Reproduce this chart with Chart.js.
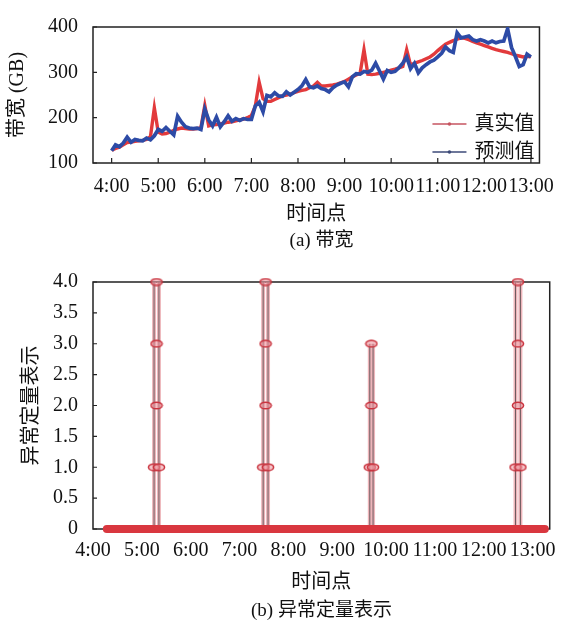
<!DOCTYPE html>
<html>
<head>
<meta charset="utf-8">
<script src="https://cdn.jsdelivr.net/npm/chart.js@4"></script>
<style>
body{margin:0;background:#fff;width:566px;height:625px;position:relative;overflow:hidden;font-family:'Liberation Serif','Noto Sans CJK SC',serif;color:#111;}
.box{position:absolute;left:0;width:566px;}
.cap{position:absolute;left:0;width:643px;text-align:center;font-size:19px;line-height:22px;}
</style>
</head>
<body>
<div class="box" style="top:0;height:232px"><canvas id="bw"></canvas></div>
<div class="cap" style="top:229px">(a) 带宽</div>
<div class="box" style="top:255px;height:345px"><canvas id="yc"></canvas></div>
<div class="cap" style="top:599px">(b) 异常定量表示</div>
<script>
const serif = "'Liberation Serif', 'Noto Sans CJK SC', serif";

// ---- data ----
const hourLabels = ['4:00','5:00','6:00','7:00','8:00','9:00','10:00','11:00','12:00','13:00'];
const startTime = '4:00';
const stepMinutes = 5;
const seriesNames = ['真实值', '预测值'];

// 带宽 (GB), one value every 5 minutes from 4:00 to 13:00
const realValues = [
  128,132,135,140,145,146,148,149,150,152,158,222,
  168,164,165,168,172,175,177,176,175,175,176,178,
  227,182,184,185,186,188,190,191,193,195,197,200,
  205,225,278,242,236,236,240,244,248,250,252,255,
  258,260,262,266,270,278,270,270,271,272,274,277,
  280,285,290,294,298,350,296,295,296,298,300,302,
  305,307,310,313,350,316,320,323,326,330,334,340,
  348,355,362,366,370,373,376,375,372,368,365,362,
  359,356,353,350,348,346,344,341,338,336,334,335,
  335
];
const predValues = [
  127,140,136,144,157,146,152,150,149,155,151,160,
  174,170,178,170,162,203,190,180,177,176,177,174,
  219,195,182,201,180,191,204,192,198,194,198,196,
  196,226,234,213,249,246,255,248,247,257,250,256,
  262,270,284,268,266,270,264,262,257,266,272,276,
  279,268,290,297,296,302,300,305,320,303,285,304,
  300,302,310,320,334,308,320,299,310,317,323,327,
  334,342,356,348,344,387,376,378,380,372,369,372,
  369,365,369,365,368,369,396,355,335,313,317,340,
  334
];

// 异常定量表示
const anomalyTicks = [0,0.5,1,1.5,2,2.5,3,3.5,4];
const baseTimes = ['4:17','13:15'];
const baseValues = [0, 0];
const spikeTimesA = ['5:15','7:29','9:40','12:39'];
const spikeTimesB = ['5:21','7:35','9:44','12:45'];
const spikeLevels = [4, 4, 3, 4];

function toMin(s){ const p = s.split(':').map(Number); return (p[0]-4)*60 + p[1]; }
const startMin = toMin(startTime);

const realPts = realValues.map((v,i) => ({x: startMin + i*stepMinutes, y: v}));
const predPts = predValues.map((v,i) => ({x: startMin + i*stepMinutes, y: v}));

const basePts = baseTimes.map((t,i) => ({x: toMin(t), y: baseValues[i]}));
const spikePts = [];
const markerPts = [];
spikeLevels.forEach((lv, i) => {
  const xa = toMin(spikeTimesA[i]), xb = toMin(spikeTimesB[i]);
  [xa, xb].forEach(x => { spikePts.push({x, y:0}, {x, y:lv}, {x, y:null}); });
  markerPts.push({x: xa, y: 1}, {x: xb, y: 1});
  for (let k = 2; k <= lv; k++) markerPts.push({x: (xa+xb)/2, y: k});
});

function ellipseMarker(){
  const c = document.createElement('canvas'); c.width = 14; c.height = 9;
  const g = c.getContext('2d');
  g.beginPath(); g.ellipse(7, 4.5, 5.6, 3.3, 0, 0, Math.PI*2);
  g.fillStyle = 'rgba(236,150,158,0.55)'; g.fill();
  g.lineWidth = 1.5; g.strokeStyle = '#c9343f'; g.stroke();
  return c;
}

// ---- plugins ----
const frame = {
  id: 'frame',
  beforeDatasetsDraw(chart, args, opts){
    const {ctx, chartArea: a, scales} = chart;
    ctx.save();
    ctx.strokeStyle = '#222'; ctx.lineWidth = 1.5;
    ctx.strokeRect(a.left, a.top, a.right - a.left, a.bottom - a.top);
    ctx.lineWidth = 1.2;
    ctx.beginPath();
    scales.y.ticks.forEach(t => { const y = scales.y.getPixelForValue(t.value); ctx.moveTo(a.left, y); ctx.lineTo(a.left + 4, y); });
    if (opts.xTicks) scales.x.ticks.forEach(t => { const x = scales.x.getPixelForValue(t.value); ctx.moveTo(x, a.bottom); ctx.lineTo(x, a.bottom - 5); });
    ctx.stroke();
    ctx.restore();
  }
};

const legendBox = {
  id: 'legendBox',
  afterDraw(chart){
    const {ctx, chartArea: a} = chart;
    const items = [
      {text: seriesNames[0], color: '#c65560', y: a.top + 97},
      {text: seriesNames[1], color: '#3d4a78', y: a.top + 125}
    ];
    ctx.save();
    ctx.font = '20px ' + serif;
    ctx.textBaseline = 'middle';
    items.forEach(it => {
      ctx.strokeStyle = it.color; ctx.lineWidth = 1.5;
      ctx.beginPath(); ctx.moveTo(a.right - 107, it.y); ctx.lineTo(a.right - 73, it.y); ctx.stroke();
      ctx.fillStyle = it.color;
      ctx.beginPath(); ctx.arc(a.right - 90, it.y, 1.8, 0, Math.PI*2); ctx.fill();
      ctx.fillStyle = '#111';
      ctx.fillText(it.text, a.right - 65, it.y + 1);
    });
    ctx.restore();
  }
};

Chart.defaults.font.family = serif;
Chart.defaults.font.size = 20;
Chart.defaults.color = '#111';

// ---- (a) 带宽 ----
new Chart(document.getElementById('bw'), {
  type: 'line',
  data: {
    datasets: [
      {label: seriesNames[1], data: predPts, borderColor: '#2d4ba6', borderWidth: 3.7, pointRadius: 0},
      {label: seriesNames[0], data: realPts, borderColor: '#e23a3c', borderWidth: 3.4, pointRadius: 0}
    ]
  },
  options: {
    responsive: true, maintainAspectRatio: false, animation: false,
    layout: {padding: {top: 20, right: 16, left: 0, bottom: 0}},
    plugins: {legend: {display: false}, tooltip: {enabled: false}, frame: {xTicks: true}},
    scales: {
      x: {
        type: 'linear', min: -24, max: 551,
        afterBuildTicks: s => { s.ticks = hourLabels.map(h => ({value: toMin(h)})); },
        afterFit: s => { s.height = 69; },
        grid: {display: false, drawTicks: false}, border: {display: false},
        ticks: {padding: 12, autoSkip: false, minRotation: 0, maxRotation: 0,
          callback: v => hourLabels.find(h => toMin(h) === v)},
        title: {display: true, text: '时间点', padding: {top: 0, bottom: 5}}
      },
      y: {
        min: 100, max: 400,
        afterBuildTicks: s => { s.ticks = [100,200,300,400].map(v => ({value: v})); },
        afterFit: s => { s.width = 93; },
        grid: {display: false, drawTicks: false}, border: {display: false},
        ticks: {padding: 15},
        title: {display: true, text: '带宽 (GB)', padding: {top: 6, bottom: 0}}
      }
    }
  },
  plugins: [frame, legendBox]
});

// ---- (b) 异常定量表示 ----
new Chart(document.getElementById('yc'), {
  type: 'line',
  data: {
    datasets: [
      {data: markerPts, showLine: false, pointStyle: ellipseMarker(), pointRadius: 6, clip: false},
      {data: basePts, borderColor: '#d9373f', borderWidth: 8, borderCapStyle: 'round', pointRadius: 0, clip: false},
      {data: spikePts, borderColor: '#6d5a5e', borderWidth: 1, pointRadius: 0, spanGaps: false, clip: false},
      {data: spikePts, borderColor: 'rgba(222,120,130,0.55)', borderWidth: 4, pointRadius: 0, spanGaps: false, clip: false}
    ]
  },
  options: {
    responsive: true, maintainAspectRatio: false, animation: false,
    layout: {padding: {top: 22, right: 16, left: 14, bottom: 0}},
    plugins: {legend: {display: false}, tooltip: {enabled: false}, frame: {xTicks: false}},
    scales: {
      x: {
        type: 'linear', min: 0, max: 561,
        afterBuildTicks: s => { s.ticks = hourLabels.map(h => ({value: toMin(h)})); },
        afterFit: s => { s.height = 71; },
        grid: {display: false, drawTicks: false}, border: {display: false},
        ticks: {padding: 10, autoSkip: false, minRotation: 0, maxRotation: 0,
          callback: v => hourLabels.find(h => toMin(h) === v)},
        title: {display: true, text: '时间点', padding: {top: 0, bottom: 5}}
      },
      y: {
        min: 0, max: 4,
        afterBuildTicks: s => { s.ticks = anomalyTicks.map(v => ({value: v})); },
        afterFit: s => { s.width = 79; },
        grid: {display: false, drawTicks: false}, border: {display: false},
        ticks: {padding: 15, callback: v => v === 0 ? '0' : v.toFixed(1)},
        title: {display: true, text: '异常定量表示', padding: {top: 6, bottom: 0}}
      }
    }
  },
  plugins: [frame]
});
</script>
</body>
</html>
